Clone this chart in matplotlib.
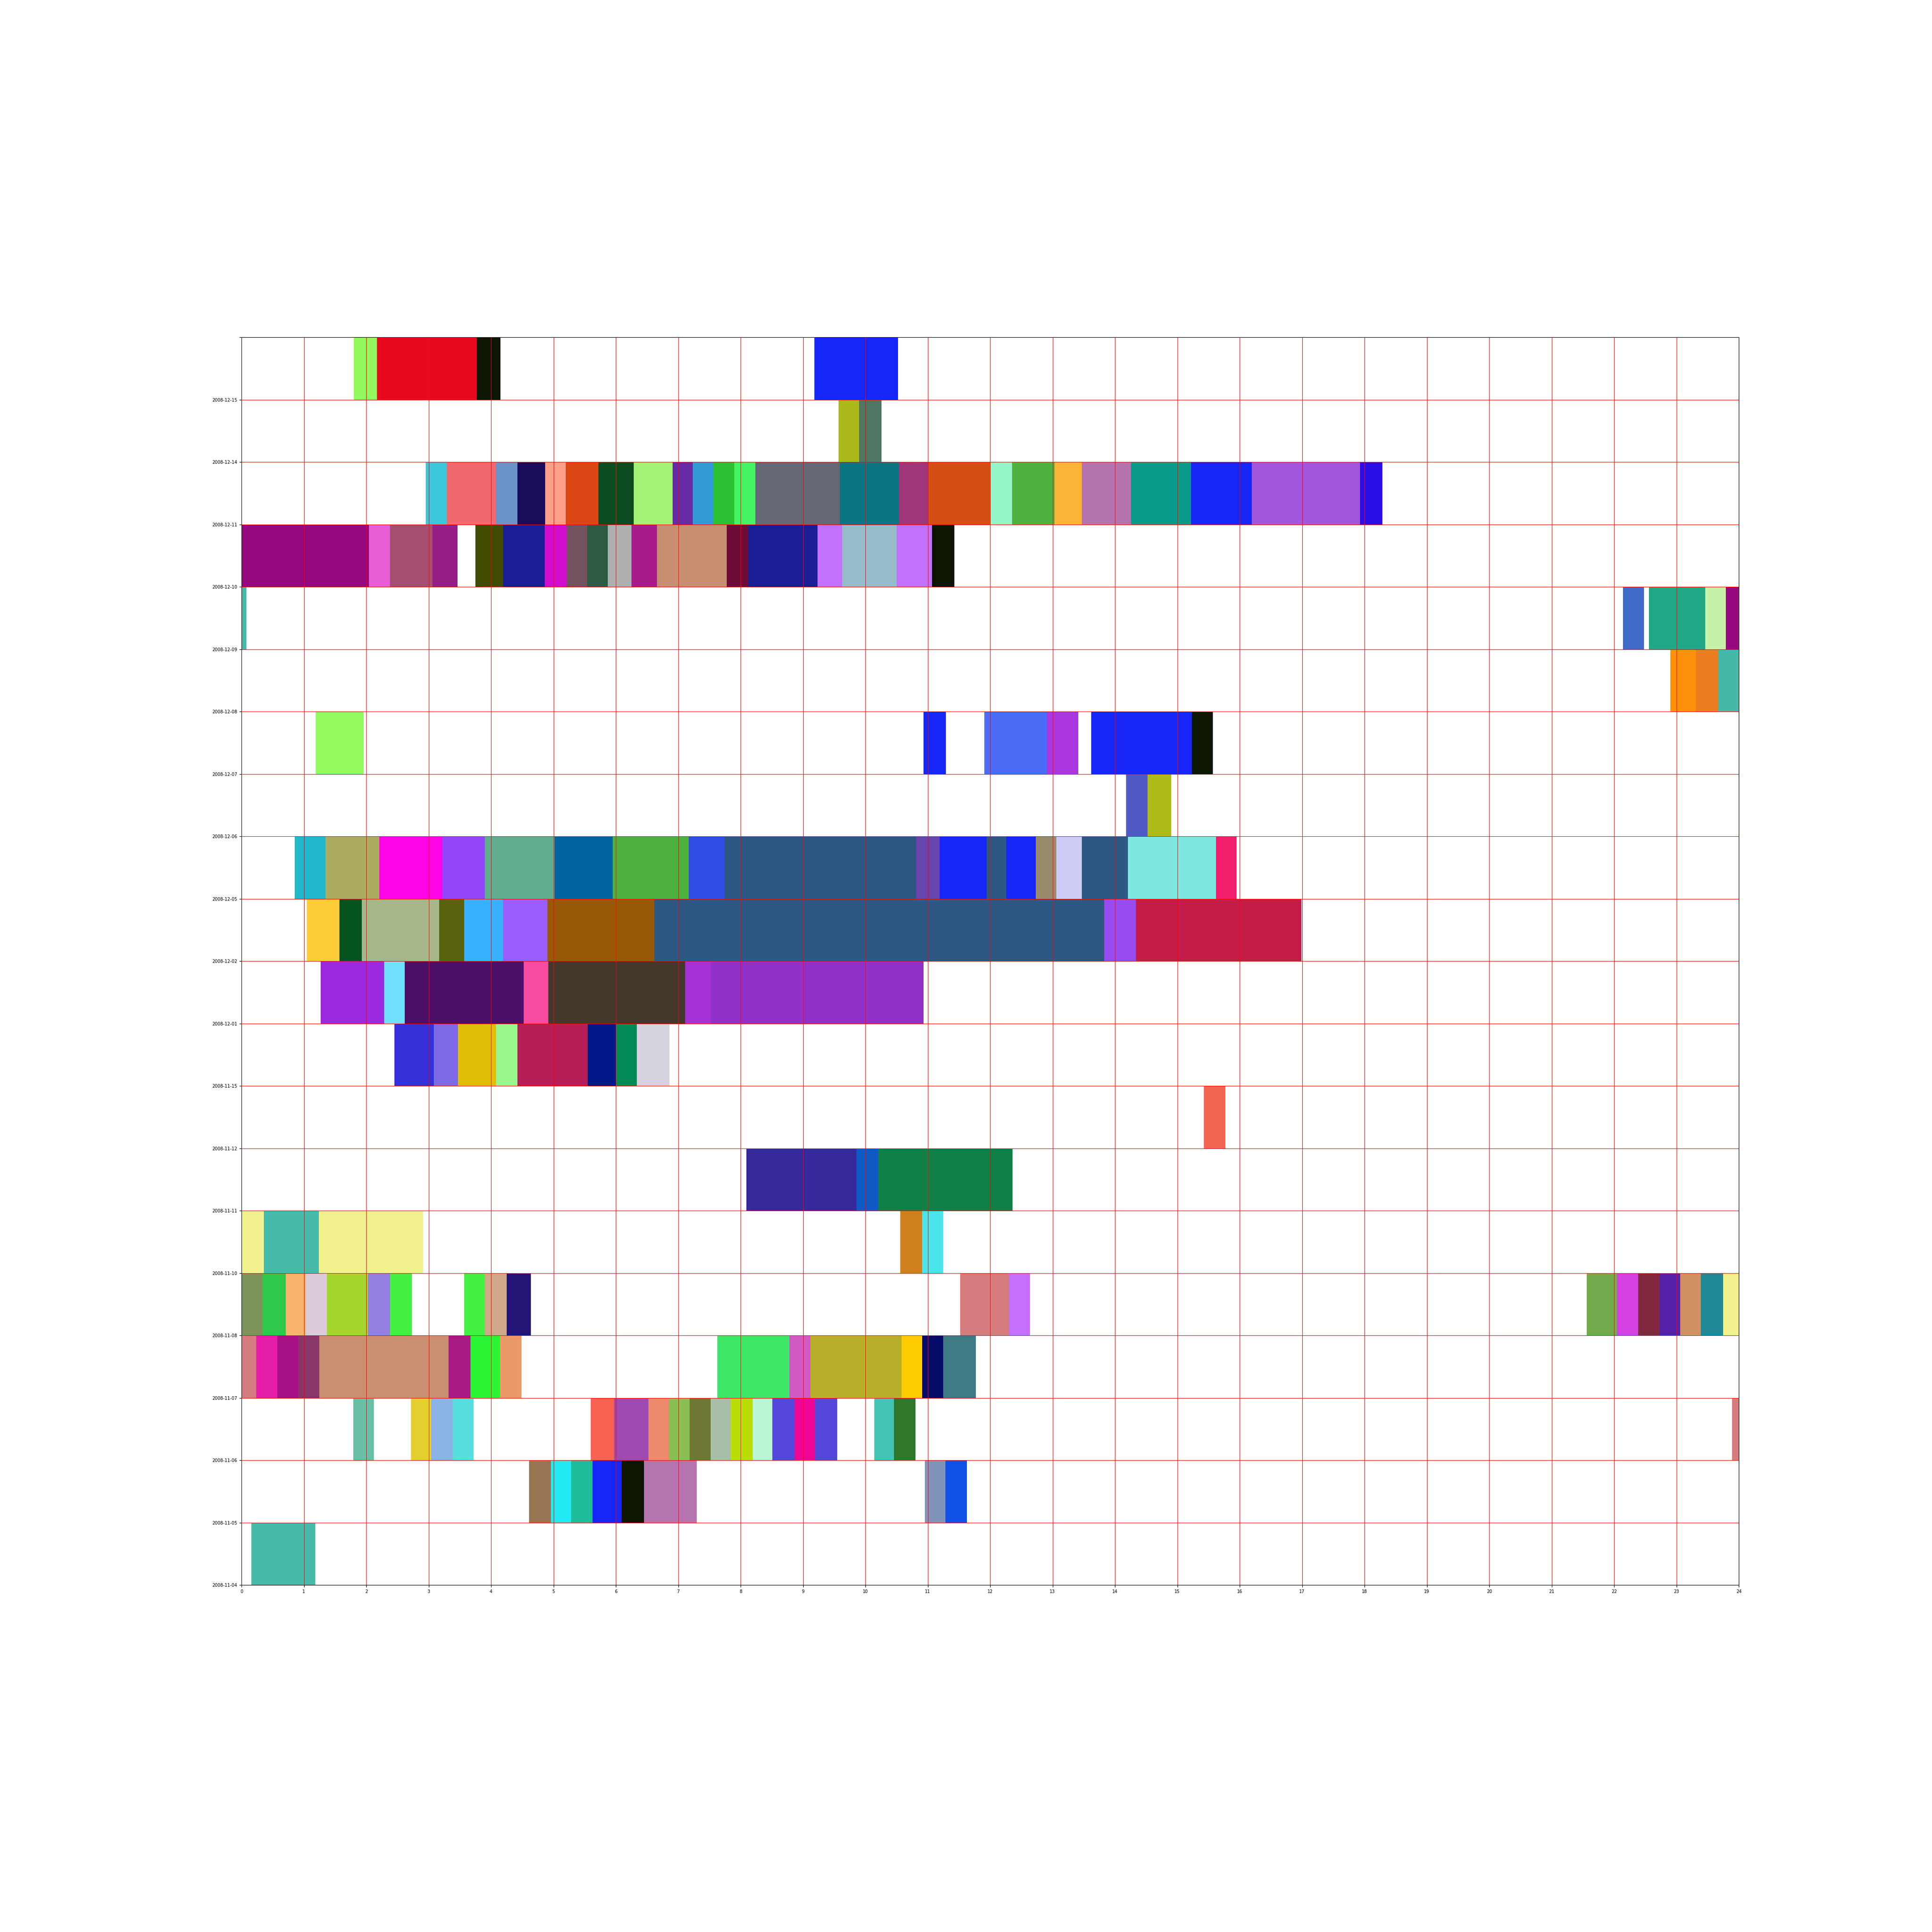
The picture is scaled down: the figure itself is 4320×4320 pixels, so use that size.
import matplotlib
matplotlib.use('Agg')
import matplotlib.pyplot as plt

# day labels, bottom row first
days = ['2008-11-04', '2008-11-05', '2008-11-06', '2008-11-07', '2008-11-08',
        '2008-11-10', '2008-11-11', '2008-11-12', '2008-11-15', '2008-12-01',
        '2008-12-02', '2008-12-05', '2008-12-06', '2008-12-07', '2008-12-08',
        '2008-12-09', '2008-12-10', '2008-12-11', '2008-12-14', '2008-12-15']

# activity spans (start hour, end hour) and colours, one list pair per row
r00 = [(0.16, 1.18)]
c00 = ['#47baa9']

r01 = [(4.61, 4.96), (4.96, 5.28), (5.28, 5.63), (5.63, 6.09), (6.09, 6.45), (6.45, 7.30),
       (10.95, 11.28), (11.28, 11.63)]
c01 = ['#977553', '#21eaf4', '#1dbc9a', '#1726f7', '#0d1503', '#b574b0',
       '#8094ba', '#1053e8']

r02 = [(1.79, 2.12), (2.72, 3.04), (3.04, 3.38), (3.38, 3.72), (5.60, 5.97), (5.97, 6.52),
       (6.52, 6.85), (6.85, 7.18), (7.18, 7.52), (7.52, 7.84), (7.84, 8.19), (8.19, 8.51),
       (8.51, 8.87), (8.87, 9.19), (9.19, 9.55), (10.14, 10.46), (10.46, 10.80), (23.89, 24.0)]
c02 = ['#69bea6', '#e3d02f', '#8cb3e5', '#57dfdf', '#f86251', '#9e4ab2',
       '#ec8a6b', '#8abf55', '#6e7733', '#a9bea9', '#bade05', '#baf5d4',
       '#5547d9', '#ee0596', '#5547d9', '#42c3b4', '#2e772b', '#d67b7f']

r03 = [(0.0, 0.24), (0.24, 0.57), (0.57, 0.91), (0.91, 1.25), (1.25, 3.32), (3.32, 3.67),
       (3.67, 4.14), (4.14, 4.49), (7.63, 8.78), (8.78, 9.12), (9.12, 10.58), (10.58, 10.91),
       (10.91, 11.25), (11.25, 11.77)]
c03 = ['#d67b7f', '#e51ea9', '#a81086', '#89366a', '#ca8f70', '#a81a86',
       '#2af535', '#ea9966', '#3ee768', '#d059c2', '#b9af2b', '#fdcc02',
       '#050c68', '#3e7b85']

r04 = [(0.0, 0.34), (0.34, 0.71), (0.71, 1.03), (1.03, 1.37), (1.37, 2.03), (2.03, 2.38),
       (2.38, 2.73), (3.57, 3.90), (3.90, 4.25), (4.25, 4.64), (11.52, 12.30), (12.30, 12.64),
       (21.56, 22.05), (22.05, 22.39), (22.39, 22.73), (22.73, 23.06), (23.06, 23.39),
       (23.39, 23.75), (23.75, 24.0)]
c04 = ['#7e925c', '#2ec84b', '#fab36a', '#dbcad9', '#a3d52c', '#947fe3',
       '#45f042', '#45f042', '#cfa789', '#231475', '#d67b7e', '#c470fc',
       '#71ab4e', '#d440e2', '#81283e', '#5621a8', '#d09063',
       '#218995', '#f2f28e']

r05 = [(0.0, 0.36), (0.36, 1.24), (1.24, 2.91), (10.56, 10.91), (10.91, 11.25)]
c05 = ['#f1f28e', '#47baa9', '#f1f28e', '#d0811d', '#4ae5ea']

r06 = [(8.09, 9.86), (9.86, 10.21), (10.21, 12.36)]
c06 = ['#35299c', '#0e59c4', '#0f7f45']

r07 = [(15.43, 15.77)]
c07 = ['#f26452']

r08 = [(2.45, 3.08), (3.08, 3.47), (3.47, 4.08), (4.08, 4.42), (4.42, 5.55), (5.55, 6.0),
       (6.0, 6.34), (6.34, 6.86)]
c08 = ['#3430da', '#7c69e6', '#e0bd06', '#98f78a', '#b51e57', '#021a89',
       '#028a56', '#d5d2de']

r09 = [(1.27, 2.29), (2.29, 2.62), (2.62, 4.52), (4.52, 4.92), (4.92, 7.11), (7.11, 7.52),
       (7.52, 10.93)]
c09 = ['#9b2ade', '#6fe0fe', '#4c0f68', '#f64ba0', '#44382d', '#a631d6', '#9131c7']

r10 = [(1.05, 1.57), (1.57, 1.93), (1.93, 3.17), (3.17, 3.57), (3.57, 4.19), (4.19, 4.90),
       (4.90, 6.62), (6.62, 13.83), (13.83, 14.34), (14.34, 16.99)]
c10 = ['#fdcd39', '#05541f', '#a6b689', '#5b620d', '#38b1fe', '#9a5dfe',
       '#975908', '#2e5884', '#984cef', '#c31c48']

r11 = [(0.85, 1.35), (1.35, 2.21), (2.21, 3.22), (3.22, 3.90), (3.90, 5.02), (5.02, 5.95),
       (5.95, 7.17), (7.17, 7.74), (7.74, 10.81), (10.81, 11.19), (11.19, 11.94), (11.94, 12.26),
       (12.26, 12.73), (12.73, 13.06), (13.06, 13.47), (13.47, 14.21), (14.21, 15.62),
       (15.62, 15.95)]
c11 = ['#23b7cb', '#acac61', '#fc04e5', '#9446f9', '#61ad8d', '#0063a2',
       '#4cb23d', '#2f4de3', '#2e5884', '#6844ad', '#1726f7', '#2e5884',
       '#1726f7', '#9a8a6d', '#ccccf7', '#2e5884', '#7ee8df', '#f11f6b']

r12 = [(14.18, 14.52), (14.52, 14.90)]
c12 = ['#4f5ac4', '#adba1a']

r13 = [(1.19, 1.96), (10.93, 11.29), (11.91, 12.91), (12.91, 13.41), (13.62, 15.23),
       (15.23, 15.57)]
c13 = ['#93fb60', '#1726f7', '#4a6cf7', '#aa37dd', '#1726f7', '#0d1503']

r14 = [(22.90, 23.31), (23.31, 23.67), (23.67, 24.0)]
c14 = ['#fb900a', '#ec7d22', '#45b9a9']

r15 = [(0.0, 0.08), (22.14, 22.48), (22.56, 23.46), (23.46, 23.79), (23.79, 24.0)]
c15 = ['#46bbaa', '#406ac8', '#21a887', '#c5f2a8', '#970a7f']

r16 = [(0.0, 2.04), (2.04, 2.38), (2.38, 3.06), (3.06, 3.46), (3.75, 4.19), (4.19, 4.86),
       (4.86, 5.21), (5.21, 5.54), (5.54, 5.87), (5.87, 6.25), (6.25, 6.66), (6.66, 7.78),
       (7.78, 8.12), (8.12, 9.23), (9.23, 9.63), (9.63, 10.50), (10.50, 11.07), (11.07, 11.43)]
c16 = ['#96087d', '#e85ed4', '#a54f70', '#951e87', '#424b02', '#1b1d94',
       '#d20ccd', '#74515f', '#2e5b44', '#aeb0b0', '#a81c8a', '#c78e71',
       '#6d0c37', '#1b1d94', '#c270fd', '#96bccc', '#c270fd', '#0d1503']

r17 = [(2.95, 3.29), (3.29, 4.08), (4.08, 4.42), (4.42, 4.87), (4.87, 5.20), (5.20, 5.72),
       (5.72, 6.29), (6.29, 6.91), (6.91, 7.23), (7.23, 7.56), (7.56, 7.90), (7.90, 8.24),
       (8.24, 9.59), (9.59, 10.54), (10.54, 11.0), (11.0, 12.0), (12.0, 12.35), (12.35, 13.03),
       (13.03, 13.47), (13.47, 14.26), (14.26, 15.22), (15.22, 16.19), (16.19, 17.93),
       (17.93, 18.29)]
c17 = ['#3cc6d9', '#f0696e', '#6993c6', '#1a0b5b', '#fd9f8b', '#da4714',
       '#0b4b20', '#a3f275', '#662ba5', '#329bd6', '#2cc233', '#45f465',
       '#646774', '#0b7482', '#9e3679', '#d34f13', '#95f5c8', '#4db33e',
       '#fbb435', '#b573ae', '#0a9a89', '#1726f7', '#a355dc', '#2a0fe6']

r18 = [(9.57, 9.90), (9.90, 10.26)]
c18 = ['#abb81a', '#4f7563']

r19 = [(1.80, 2.17), (2.17, 3.77), (3.77, 4.15), (9.18, 10.52)]
c19 = ['#93f95f', '#e8091f', '#0d1503', '#1726f7']

rows = [(r00, c00), (r01, c01), (r02, c02), (r03, c03), (r04, c04),
        (r05, c05), (r06, c06), (r07, c07), (r08, c08), (r09, c09),
        (r10, c10), (r11, c11), (r12, c12), (r13, c13), (r14, c14),
        (r15, c15), (r16, c16), (r17, c17), (r18, c18), (r19, c19)]

fig = plt.figure(figsize=(43.2, 43.2), dpi=100)
ax = fig.add_axes([0.125, 0.1796, 0.775, 0.6458])

for i, (spans, colors) in enumerate(rows):
    ax.broken_barh([(s, e - s) for s, e in spans], (i, 1),
                   facecolors=colors, linewidth=0)

ax.set_xlim(0, 24)
ax.set_ylim(0, len(days))
ax.set_xticks(range(25))
ax.set_yticks(range(len(days) + 1))
ax.set_yticklabels(days + [''])
ax.tick_params(labelsize=7)
ax.grid(True, color='r', linewidth=0.72)

fig.savefig('out.png', dpi=100)
